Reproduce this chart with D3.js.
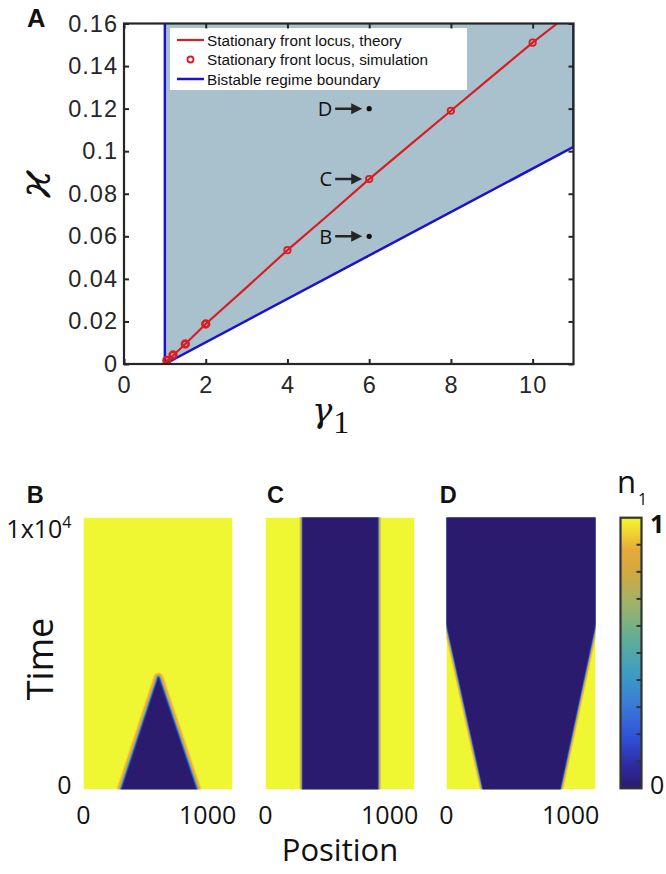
<!DOCTYPE html>
<html><head><meta charset="utf-8">
<script src="https://cdn.jsdelivr.net/npm/d3@7"></script>
<style>body{margin:0;background:#fff}svg{display:block}</style>
</head><body>
<script>
// ---------- Data ----------
const xTicksA = [0, 2, 4, 6, 8, 10];
const yTicksA = [0, 0.02, 0.04, 0.06, 0.08, 0.1, 0.12, 0.14, 0.16];
const theoryGamma = [1, 1.05, 1.2, 1.5, 2, 3, 4, 5, 6, 7, 8, 9, 10, 10.6];
const theoryKappa = [0, 0.0015, 0.004, 0.0094, 0.0188, 0.036, 0.0535, 0.070, 0.0869, 0.103, 0.119, 0.135, 0.151, 0.16];
const simGamma = [1.05, 1.2, 1.5, 2, 4, 6, 8, 10];
const simKappa = [0.0017, 0.0042, 0.0094, 0.0188, 0.0535, 0.0869, 0.119, 0.151];
const boundaryGamma = [1, 1, 11, 11];
const boundaryKappa = [0.16, 0, 0.102, 0.16];
const annLabels = ["B", "C", "D"];
const annGamma = [6, 6, 6];
const annKappa = [0.06, 0.0869, 0.12];
const annDot = [true, false, true];
const legendLabels = ["Stationary front locus, theory", "Stationary front locus, simulation", "Bistable regime boundary"];

const panelNames = ["B", "C", "D"];
const positionTicks = [0, 1000];
const timeTicks = [0, 10000];
// dark (n1 = 0) region outlines per panel: position, time
const darkPos = {
  B: [309, 604, 907],
  C: [300, 300, 904, 904],
  D: [0, 0, 295, 914, 1200, 1200]
};
const darkTime = {
  B: [0, 4100, 0],
  C: [0, 10000, 10000, 0],
  D: [10000, 6100, 0, 0, 6100, 10000]
};
const cbTicks = [0.1, 0.2, 0.3, 0.4, 0.5, 0.6, 0.7, 0.8, 0.9];
const cbLabels = [0, 1];

// ---------- Styles ----------
const RED = "#d81e25", BLUE = "#1b12cc", FILL = "#a9c0cd", AX = "#262626";
const DARK = "#2b1b6f", YEL = "#eff733";
const cmapStops = [[0, "#2b1b6f"], [0.08, "#2d2a9c"], [0.18, "#2f4fd6"], [0.3, "#3a78d8"], [0.42, "#3d9bc4"],
  [0.55, "#5fae98"], [0.68, "#9db36a"], [0.8, "#d2a940"], [0.88, "#e6a93a"], [0.95, "#f0d830"], [1, "#eff733"]];

const W = 666, H = 874;
const svg = d3.select("body").append("svg").attr("width", W).attr("height", H);
const defs = svg.append("defs");

// ---------- Panel A ----------
const x = d3.scaleLinear([0, 11], [124, 573.5]);
const y = d3.scaleLinear([0, 0.16], [364, 23.5]);
defs.append("clipPath").attr("id", "clipA").append("rect")
  .attr("x", x(0)).attr("y", y(0.16)).attr("width", x(11) - x(0)).attr("height", y(0) - y(0.16));
const gA = svg.append("g");
const plot = gA.append("g").attr("clip-path", "url(#clipA)");

plot.append("path")
  .attr("d", d3.line().x((d, i) => x(boundaryGamma[i])).y((d, i) => y(boundaryKappa[i]))(boundaryGamma) )
  .attr("fill", FILL).attr("stroke", BLUE).attr("stroke-width", 2.5);

plot.append("path")
  .attr("d", d3.line().x((d, i) => x(theoryGamma[i])).y((d, i) => y(theoryKappa[i]))(theoryGamma))
  .attr("fill", "none").attr("stroke", RED).attr("stroke-width", 2.2);

plot.selectAll("circle.sim").data(simGamma).join("circle").attr("class", "sim")
  .attr("cx", (d) => x(d)).attr("cy", (d, i) => y(simKappa[i])).attr("r", (d) => d <= 2 ? 3.4 : 3.2)
  .attr("fill", "none").attr("stroke", RED).attr("stroke-width", (d) => d <= 2 ? 2.6 : 1.8);

// annotations
annLabels.forEach((lab, i) => {
  const px = x(annGamma[i]), py = y(annKappa[i]);
  const g = plot.append("g");
  if (annDot[i]) g.append("circle").attr("cx", px).attr("cy", py).attr("r", 2.6).attr("fill", "#111");
  g.append("line").attr("x1", px - 34).attr("x2", px - 17).attr("y1", py).attr("y2", py)
    .attr("stroke", AX).attr("stroke-width", 2.5);
  g.append("path").attr("d", `M${px - 7},${py} L${px - 18},${py - 5.5} L${px - 18},${py + 5.5} Z`).attr("fill", AX);
  g.append("text").attr("x", px - 37).attr("y", py).attr("dy", "0.36em").attr("text-anchor", "end")
    .attr("font-family", "Open Sans").attr("font-size", 20).attr("fill", "#111").text(lab);
});

// legend
const lg = gA.append("g");
lg.append("rect").attr("x", 170).attr("y", 28).attr("width", 297).attr("height", 62).attr("fill", "#fff");
const rowsY = [40, 59.5, 79];
lg.append("line").attr("x1", 177).attr("x2", 204).attr("y1", rowsY[0]).attr("y2", rowsY[0]).attr("stroke", RED).attr("stroke-width", 2.2);
lg.append("circle").attr("cx", 190.5).attr("cy", rowsY[1]).attr("r", 3).attr("fill", "none").attr("stroke", RED).attr("stroke-width", 1.8);
lg.append("line").attr("x1", 177).attr("x2", 204).attr("y1", rowsY[2]).attr("y2", rowsY[2]).attr("stroke", BLUE).attr("stroke-width", 2.5);
legendLabels.forEach((t, i) => lg.append("text").attr("x", 207).attr("y", rowsY[i]).attr("dy", "0.36em")
  .attr("font-family", "Liberation Sans, Arial").attr("font-size", 15.3).attr("fill", "#111").text(t));

// axes
const fmtA = (d) => d === 0 ? "0" : String(+d.toFixed(2));
const axL = gA.append("g").attr("transform", `translate(${x(0)},0)`)
  .call(d3.axisLeft(y).tickValues(yTicksA).tickFormat(fmtA).tickSizeInner(-5).tickSizeOuter(0).tickPadding(6));
const axB = gA.append("g").attr("transform", `translate(0,${y(0)})`)
  .call(d3.axisBottom(x).tickValues(xTicksA).tickFormat(d3.format("d")).tickSizeInner(-5).tickSizeOuter(0).tickPadding(12));
const axR = gA.append("g").attr("transform", `translate(${x(11)},0)`)
  .call(d3.axisRight(y).tickValues(yTicksA).tickFormat("").tickSizeInner(-5).tickSizeOuter(0));
const axT = gA.append("g").attr("transform", `translate(0,${y(0.16)})`)
  .call(d3.axisTop(x).tickValues(xTicksA).tickFormat("").tickSizeInner(-5).tickSizeOuter(0));
[axL, axB, axR, axT].forEach(a => {
  a.select(".domain").remove();
  a.selectAll(".tick line").attr("stroke", AX).attr("stroke-width", 2);
  a.selectAll("text").attr("font-family", "Liberation Sans, Arial").attr("font-size", 23.5)
    .attr("letter-spacing", 1).attr("fill", AX);
});
gA.append("rect").attr("x", x(0)).attr("y", y(0.16)).attr("width", x(11) - x(0)).attr("height", y(0) - y(0.16))
  .attr("fill", "none").attr("stroke", AX).attr("stroke-width", 2.2);

// axis titles
gA.append("text").attr("transform", "translate(50,184) rotate(-90)").attr("text-anchor", "middle")
  .attr("font-family", "DejaVu Serif").attr("font-style", "italic").attr("font-size", 44).attr("fill", "#111").text("ϰ");
const gl = gA.append("text").attr("x", 312).attr("y", 422).attr("font-family", "DejaVu Serif").attr("fill", "#111");
gl.append("tspan").attr("font-style", "italic").attr("font-size", 34).text("γ");
gl.append("tspan").attr("dy", 11).attr("dx", 1).attr("font-family", "Liberation Serif").attr("font-size", 32).text("1");

svg.append("text").attr("x", 27).attr("y", 26.7).attr("font-family", "Liberation Sans, Arial").attr("font-weight", "bold")
  .attr("font-size", 25.5).attr("fill", "#111").text("A");

// ---------- Panels B, C, D ----------
const panelX0 = { B: 83.5, C: 265.5, D: 446.5 };
const pw = 149;
const t = d3.scaleLinear([0, 10000], [789.3, 517.5]);
const labelX = { B: 26.7, C: 267, D: 439.7 };

panelNames.forEach((p, k) => {
  const px = d3.scaleLinear([0, 1200], [panelX0[p], panelX0[p] + pw]);
  defs.append("clipPath").attr("id", "clip" + p).append("rect")
    .attr("x", px(0)).attr("y", t(10000)).attr("width", px(1200) - px(0)).attr("height", t(0) - t(10000));
  const g = svg.append("g");
  const inner = g.append("g").attr("clip-path", `url(#clip${p})`);
  inner.append("rect").attr("x", px(0)).attr("y", t(10000)).attr("width", px(1200) - px(0)).attr("height", t(0) - t(10000)).attr("fill", YEL);
  const pts = darkPos[p].map((d, i) => [px(d), t(darkTime[p][i])]);
  const dpath = d3.line()(pts) + "Z";
  const s = p === "B" ? 1 : 0.62;
  const layers = [[11 * s, "#f2d43a"], [8.5 * s, "#e9aa3c"], [6 * s, "#c4ae55"], [4.4 * s, "#5aaa9e"], [3.2 * s, "#3a80d6"], [2 * s, "#3040b8"]];
  layers.forEach(([w, c]) => inner.append("path").attr("d", dpath).attr("fill", "none").attr("stroke", c)
    .attr("stroke-width", w).attr("stroke-linejoin", "round"));
  inner.append("path").attr("d", dpath).attr("fill", DARK);

  // position tick labels
  g.selectAll("text.pt").data(positionTicks).join("text").attr("class", "pt")
    .attr("x", (d) => px(d)).attr("y", 815).attr("dy", "0.36em").attr("text-anchor", "middle")
    .attr("font-family", "Open Sans").attr("font-size", 25).attr("fill", "#111").text((d) => d);

  g.append("text").attr("x", labelX[p]).attr("y", 503.3).attr("font-family", "Liberation Sans, Arial")
    .attr("font-weight", "bold").attr("font-size", 23.5).attr("fill", "#111").text(p);

  if (p === "B") {
    timeTicks.forEach((d) => {
      const tx = g.append("text").attr("x", 71.5).attr("y", t(d) + (d === 0 ? -4 : 11)).attr("dy", "0.36em").attr("text-anchor", "end")
        .attr("font-family", "Open Sans").attr("font-size", 25).attr("fill", "#111");
      if (d === 0) tx.text("0");
      else {
        const e = Math.round(Math.log10(d));
        tx.append("tspan").text(`${d / Math.pow(10, e)}x10`);
        tx.append("tspan").attr("dy", -10).attr("font-size", 16).text(e);
      }
    });
  }
});

svg.append("text").attr("transform", "translate(53,659) rotate(-90)").attr("text-anchor", "middle")
  .attr("font-family", "Open Sans").attr("font-size", 36).attr("fill", "#111").text("Time");
svg.append("text").attr("x", 340).attr("y", 861).attr("text-anchor", "middle")
  .attr("font-family", "Open Sans").attr("font-size", 31).attr("fill", "#111").text("Position");

// ---------- Colorbar ----------
const cbX = 620.5, cbW = 21;
const cb = d3.scaleLinear([0, 1], [788.3, 517.7]);
const grad = defs.append("linearGradient").attr("id", "cbg").attr("x1", 0).attr("x2", 0).attr("y1", 1).attr("y2", 0);
cmapStops.forEach(([o, c]) => grad.append("stop").attr("offset", o).attr("stop-color", c));
svg.append("rect").attr("x", cbX).attr("y", cb(1)).attr("width", cbW).attr("height", cb(0) - cb(1)).attr("fill", "url(#cbg)");
svg.selectAll("line.cbt").data(cbTicks).join("line").attr("class", "cbt")
  .attr("x1", cbX + cbW).attr("x2", cbX + cbW - 5).attr("y1", (d) => cb(d)).attr("y2", (d) => cb(d))
  .attr("stroke", "#333").attr("stroke-width", 2);
svg.append("rect").attr("x", cbX).attr("y", cb(1)).attr("width", cbW).attr("height", cb(0) - cb(1))
  .attr("fill", "none").attr("stroke", "#333").attr("stroke-width", 2.2);
svg.selectAll("text.cbl").data(cbLabels).join("text").attr("class", "cbl")
  .attr("x", 650).attr("y", (d) => cb(d) + (d === 1 ? 6 : -3)).attr("dy", "0.36em")
  .attr("font-family", "Open Sans").attr("font-weight", (d) => d === 1 ? "bold" : "normal").attr("font-size", 25).attr("fill", "#111").text((d) => d);
const nl = svg.append("text").attr("x", 617).attr("y", 493).attr("font-family", "Open Sans").attr("font-size", 31).attr("fill", "#111");
nl.append("tspan").text("n");
nl.append("tspan").attr("dy", 12).attr("dx", 2).attr("font-size", 16).text("1");
</script>
</body></html>
